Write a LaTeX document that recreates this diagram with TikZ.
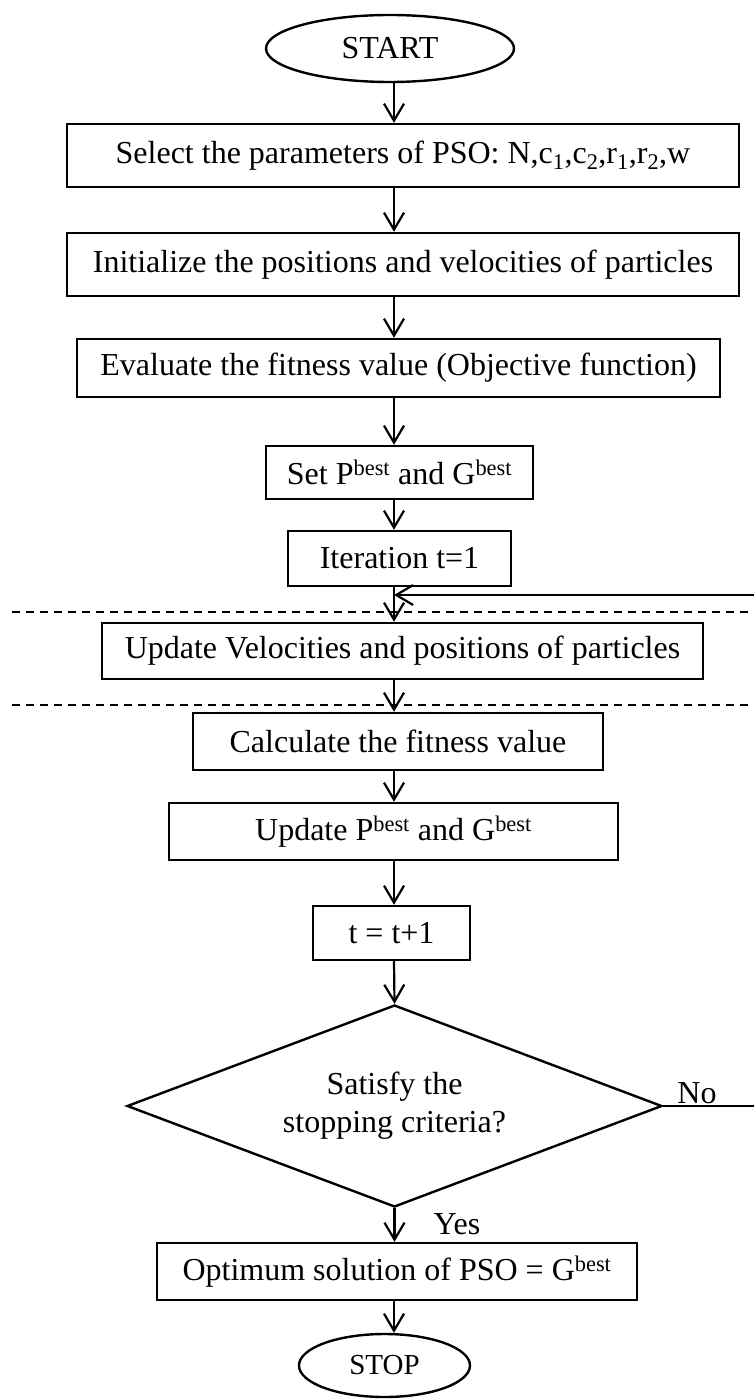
\documentclass[tikz,border=0pt]{standalone}
\usepackage{fontspec}
\setmainfont{Liberation Serif}
\usetikzlibrary{shapes.geometric,arrows.meta}
\begin{document}
\begin{tikzpicture}[x=1pt,y=-1pt,
  every node/.style={font=\fontsize{32}{38}\selectfont},
  proc/.style={draw,line width=2.4pt,rectangle,inner sep=0pt,align=center},
  term/.style={draw,line width=2.4pt,ellipse,inner sep=0pt},
  decide/.style={draw,line width=2.4pt,diamond,inner sep=0pt,align=center},
  arr/.style={line width=2.2pt,-{Straight Barb[length=17pt,width=20pt,line width=2.2pt]}},
  link/.style={line width=2.2pt},
  sepline/.style={line width=1.8pt,dash pattern=on 8pt off 6pt},
  lbl/.style={inner sep=0pt}]
\useasboundingbox (0,0) rectangle (753,1399);
\fill[white] (0,0) rectangle (753,1399);
\node[term,minimum width=248pt,minimum height=67pt] (start) at (390,48.5) {START};
\node[proc,minimum width=672pt,minimum height=63pt] (sel) at (403,155.5) {Select the parameters of PSO: N,c\textsubscript{1},c\textsubscript{2},r\textsubscript{1},r\textsubscript{2},w};
\node[proc,minimum width=672pt,minimum height=63pt] (init) at (403,264.5) {Initialize the positions and velocities of particles};
\node[proc,minimum width=643pt,minimum height=58pt] (eval) at (398.5,368) {Evaluate the fitness value (Objective function)};
\node[proc,minimum width=267pt,minimum height=53pt] (set) at (399.5,472.5) {Set P\textsuperscript{best} and G\textsuperscript{best}};
\node[proc,minimum width=223pt,minimum height=55pt] (iter) at (399.5,558.5) {Iteration t=1};
\node[proc,minimum width=601pt,minimum height=56pt] (upv) at (402.5,651) {Update Velocities and positions of particles};
\node[proc,minimum width=410pt,minimum height=57pt] (calc) at (398,741.5) {Calculate the fitness value};
\node[proc,minimum width=449pt,minimum height=57pt] (upb) at (393.5,831.5) {Update P\textsuperscript{best} and G\textsuperscript{best}};
\node[proc,minimum width=157pt,minimum height=54pt] (inc) at (391.5,933) {t = t+1};
\node[decide,minimum width=535pt,minimum height=202pt,aspect=2.65] (chk) at (394.5,1106) {Satisfy the\\stopping criteria?};
\node[proc,minimum width=480pt,minimum height=57pt] (opt) at (397,1271.5) {Optimum solution of PSO = G\textsuperscript{best}};
\node[term,minimum width=171pt,minimum height=63pt,font=\fontsize{29}{35}\selectfont] (stop) at (384.5,1365.5) {STOP};
\coordinate (ax) at (394,0);
\coordinate (join) at (394,595);
\coordinate (rb) at (758,1106);
\coordinate (rt) at (758,595);
\draw[sepline] (12,612) -- (753,612);
\draw[sepline] (12,705) -- (753,705);
\draw[arr] (start.south -| ax) -- (sel.north -| ax);
\draw[arr] (sel.south -| ax) -- (init.north -| ax);
\draw[arr] (init.south -| ax) -- (eval.north -| ax);
\draw[arr] (eval.south -| ax) -- (set.north -| ax);
\draw[arr] (set.south -| ax) -- (iter.north -| ax);
\draw[arr] (iter.south -| ax) -- (upv.north -| ax);
\draw[arr] (upv.south -| ax) -- (calc.north -| ax);
\draw[arr] (calc.south -| ax) -- (upb.north -| ax);
\draw[arr] (upb.south -| ax) -- (inc.north -| ax);
\draw[arr] (inc.south -| ax) -- (chk.north);
\draw[arr] (chk.south) -- (opt.north -| chk.south);
\draw[arr] (opt.south -| ax) -- (stop.north -| ax);
\draw[link] (chk.east) -- (rb) -- (rt);
\draw[arr] (rt) -- (join);
\node[lbl,anchor=base] (no) at (697,1103) {No};
\node[lbl] (yes) at (457,1224) {Yes};
\end{tikzpicture}
\end{document}
